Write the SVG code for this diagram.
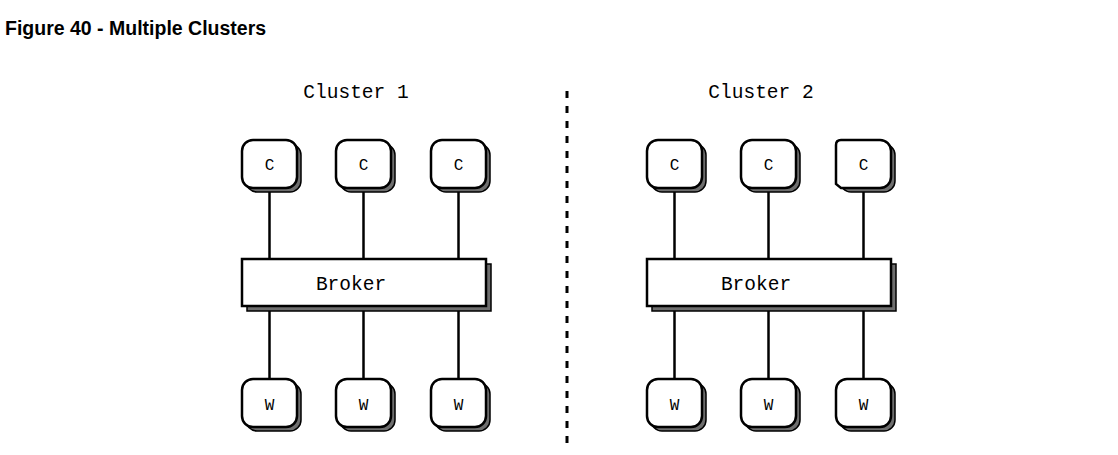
<svg xmlns="http://www.w3.org/2000/svg" width="1118" height="455" viewBox="0 0 1118 455">
  <style>
    .sh { fill: #6e6e6e; stroke: #000; stroke-width: 1.5; }
    .bx { fill: #fff; stroke: #000; stroke-width: 2.5; }
    .ln { stroke: #000; stroke-width: 2.5; fill: none; }
    .lbl { font-family: "Liberation Mono", "DejaVu Sans Mono", monospace; fill: #000; text-anchor: middle; }
    .big { font-size: 19.5px; }
    .small { font-size: 16px; }
    .title { font-family: "Liberation Sans", Arial, sans-serif; font-weight: bold; font-size: 19.5px; fill: #000; }
  </style>
  <defs>
    <g id="node">
      <rect class="sh" x="4" y="4" width="55" height="48" rx="11"/>
      <rect class="bx" x="0" y="0" width="55" height="48" rx="11"/>
    </g>
    <g id="broker">
      <rect class="sh" x="5" y="5" width="244" height="47"/>
      <rect class="bx" x="0" y="0" width="244" height="47"/>
    </g>
  </defs>
  <rect x="0" y="0" width="1118" height="455" fill="#fff"/>
  <text class="title" x="5" y="35">Figure 40 - Multiple Clusters</text>

  <g id="connectors">
    <line class="ln" x1="269.5" y1="188" x2="269.5" y2="259"/>
    <line class="ln" x1="363.5" y1="188" x2="363.5" y2="259"/>
    <line class="ln" x1="458.5" y1="188" x2="458.5" y2="259"/>
    <line class="ln" x1="269.5" y1="306" x2="269.5" y2="379"/>
    <line class="ln" x1="363.5" y1="306" x2="363.5" y2="379"/>
    <line class="ln" x1="458.5" y1="306" x2="458.5" y2="379"/>
    <line class="ln" x1="674.5" y1="188" x2="674.5" y2="259"/>
    <line class="ln" x1="768.5" y1="188" x2="768.5" y2="259"/>
    <line class="ln" x1="863.5" y1="188" x2="863.5" y2="259"/>
    <line class="ln" x1="674.5" y1="306" x2="674.5" y2="379"/>
    <line class="ln" x1="768.5" y1="306" x2="768.5" y2="379"/>
    <line class="ln" x1="863.5" y1="306" x2="863.5" y2="379"/>
  </g>

  <g id="divider">
    <line x1="567" y1="91" x2="567" y2="444" stroke="#000" stroke-width="3" stroke-dasharray="7 8"/>
  </g>

  <g id="cluster1-label"><text class="lbl big" x="356" y="98">Cluster 1</text></g>
  <g id="cluster2-label"><text class="lbl big" x="761" y="98">Cluster 2</text></g>

  <g id="c1-client1" transform="translate(242,140)"><use href="#node"/><text class="lbl small" x="27.5" y="30">C</text></g>
  <g id="c1-client2" transform="translate(336,140)"><use href="#node"/><text class="lbl small" x="27.5" y="30">C</text></g>
  <g id="c1-client3" transform="translate(431,140)"><use href="#node"/><text class="lbl small" x="27.5" y="30">C</text></g>
  <g id="c1-broker" transform="translate(242,259)"><use href="#broker"/><text class="lbl big" x="109" y="31">Broker</text></g>
  <g id="c1-worker1" transform="translate(242,379)"><use href="#node"/><text class="lbl small" x="27.5" y="31">W</text></g>
  <g id="c1-worker2" transform="translate(336,379)"><use href="#node"/><text class="lbl small" x="27.5" y="31">W</text></g>
  <g id="c1-worker3" transform="translate(431,379)"><use href="#node"/><text class="lbl small" x="27.5" y="31">W</text></g>

  <g id="c2-client1" transform="translate(647,140)"><use href="#node"/><text class="lbl small" x="27.5" y="30">C</text></g>
  <g id="c2-client2" transform="translate(741,140)"><use href="#node"/><text class="lbl small" x="27.5" y="30">C</text></g>
  <g id="c2-client3" transform="translate(836,140)">
    <rect class="sh" x="4" y="4" width="55" height="48" rx="11"/>
    <path class="bx" d="M0,5 Q0,0 5,0 H44 A11,11 0 0 1 55,11 V37 A11,11 0 0 1 44,48 H5 L0,44 Z"/>
    <text class="lbl small" x="27.5" y="30">C</text>
  </g>
  <g id="c2-broker" transform="translate(647,259)"><use href="#broker"/><text class="lbl big" x="109" y="31">Broker</text></g>
  <g id="c2-worker1" transform="translate(647,379)"><use href="#node"/><text class="lbl small" x="27.5" y="31">W</text></g>
  <g id="c2-worker2" transform="translate(741,379)"><use href="#node"/><text class="lbl small" x="27.5" y="31">W</text></g>
  <g id="c2-worker3" transform="translate(836,379)"><use href="#node"/><text class="lbl small" x="27.5" y="31">W</text></g>
</svg>
